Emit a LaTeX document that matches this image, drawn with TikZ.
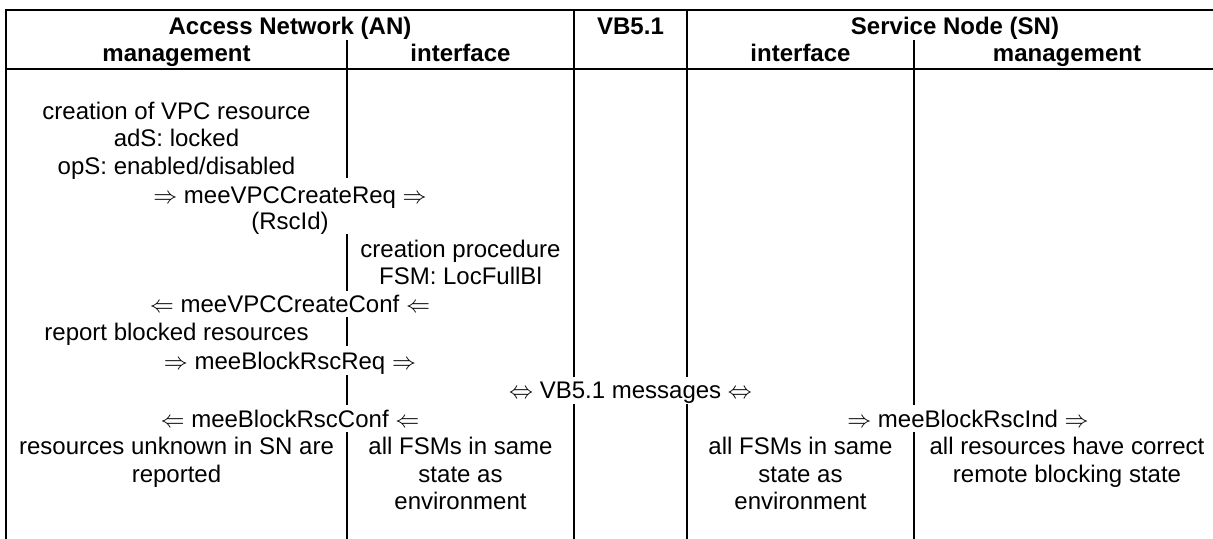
\documentclass[tikz,border=0pt]{standalone}
\usepackage{fontspec}
\setmainfont{Liberation Sans}
\begin{document}
\begin{tikzpicture}[x=0.5pt,y=-0.5pt,
  rule/.style={line width=1pt, line cap=rect},
  txt/.style={font=\fontsize{12}{13.85}\selectfont, inner sep=0pt, anchor=base},
  hdr/.style={font=\fontsize{12}{13.85}\selectfont\bfseries, inner sep=0pt, anchor=base}]
\useasboundingbox (0,0) rectangle (1213,538);
% frame and header rule
\draw[rule] (1213,10) -- (6,10) -- (6,538);
\draw[rule] (6,68.5) -- (1213,68.5);
% AN management | interface
\draw[rule] (347,40.5) -- (347,177);
\draw[rule] (347,235) -- (347,290);
\draw[rule] (347,318) -- (347,345);
\draw[rule] (347,376) -- (347,404);
\draw[rule] (347,433) -- (347,538);
% VB5.1 column
\draw[rule] (574,10) -- (574,376);
\draw[rule] (574,405) -- (574,538);
\draw[rule] (687,10) -- (687,376);
\draw[rule] (687,405) -- (687,538);
% SN interface | management
\draw[rule] (914,40.5) -- (914,404);
\draw[rule] (914,433) -- (914,538);
% headers
\node[hdr] (hAN) at (290,34.5) {Access Network (AN)};
\node[hdr] (hVB) at (630.5,34.5) {VB5.1};
\node[hdr] (hSN) at (955,34.5) {Service Node (SN)};
\node[hdr] (hANm) at (176.5,61.5) {management};
\node[hdr] (hANi) at (460.5,61.5) {interface};
\node[hdr] (hSNi) at (800.5,61.5) {interface};
\node[hdr] (hSNm) at (1067,61.5) {management};
% body
\node[txt] (t1) at (176.5,119) {creation of VPC resource};
\node[txt] (t2) at (176.5,146.5) {adS: locked};
\node[txt] (t3) at (176.5,174) {opS: enabled/disabled};
\node[txt] (t4) at (290,203.5) {$\Rightarrow$ meeVPCCreateReq $\Rightarrow$};
\node[txt] (t5) at (290,229.5) {(RscId)};
\node[txt] (t6) at (460.5,257.5) {creation procedure};
\node[txt] (t7) at (460.5,284.5) {FSM: LocFullBl};
\node[txt] (t8) at (290,312.5) {$\Leftarrow$ meeVPCCreateConf $\Leftarrow$};
\node[txt] (t9) at (176.5,340.5) {report blocked resources};
\node[txt] (t10) at (290,369.5) {$\Rightarrow$ meeBlockRscReq $\Rightarrow$};
\node[txt] (t11) at (630.5,398.5) {$\Leftrightarrow$ VB5.1 messages $\Leftrightarrow$};
\node[txt] (t12) at (290,427.5) {$\Leftarrow$ meeBlockRscConf $\Leftarrow$};
\node[txt] (t13) at (968,427.5) {$\Rightarrow$ meeBlockRscInd $\Rightarrow$};
\node[txt] (a1) at (176.5,454.5) {resources unknown in SN are};
\node[txt] (a2) at (176.5,482.5) {reported};
\node[txt] (b1) at (460.5,454.5) {all FSMs in same};
\node[txt] (b2) at (460.5,482.5) {state as};
\node[txt] (b3) at (460.5,509.5) {environment};
\node[txt] (c1) at (800.5,454.5) {all FSMs in same};
\node[txt] (c2) at (800.5,482.5) {state as};
\node[txt] (c3) at (800.5,509.5) {environment};
\node[txt] (d1) at (1067,454.5) {all resources have correct};
\node[txt] (d2) at (1067,482.5) {remote blocking state};
\end{tikzpicture}
\end{document}
